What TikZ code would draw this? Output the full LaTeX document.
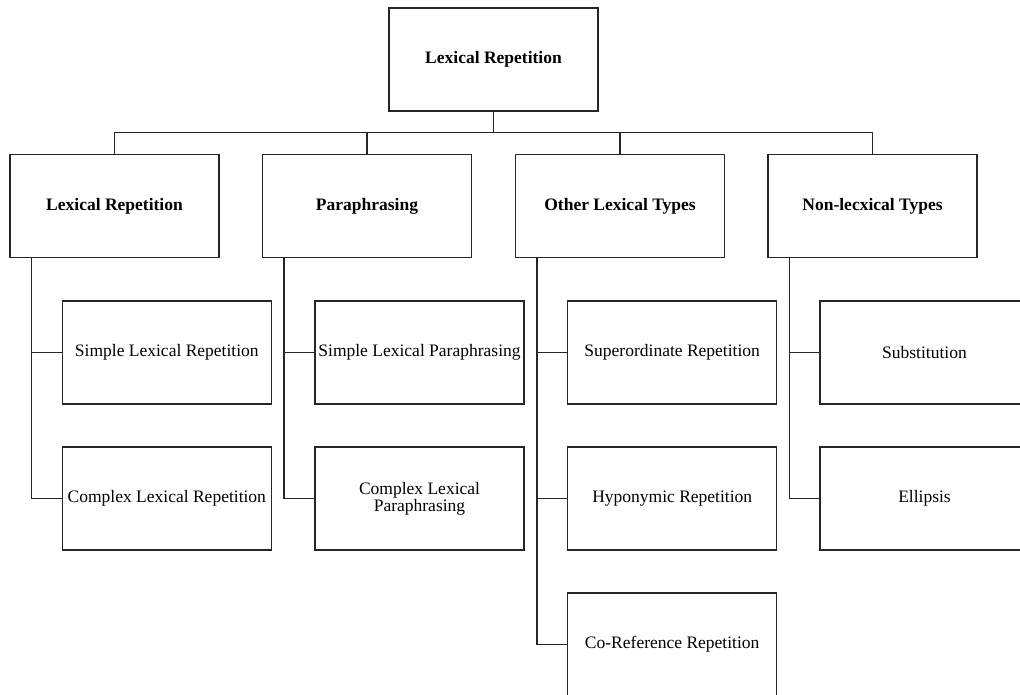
\documentclass[tikz,border=0pt]{standalone}
\usepackage{fontspec}
\setmainfont{Liberation Serif}
\begin{document}
\begin{tikzpicture}[x=1pt,y=-1pt,
  box/.style={draw=black!85, line width=1.4pt, minimum width=209pt, minimum height=103pt, inner sep=0pt, align=center, font=\fontsize{17.5}{17}\selectfont},
  headbox/.style={box, font=\fontsize{17.5}{17}\selectfont\bfseries},
  link/.style={draw=black!85, line width=1.4pt}]
\clip (0,0) rectangle (1020,695);
\fill[white] (0,0) rectangle (1020,695);
% root
\node[headbox] (root) at (493.5,59.5) {Lexical Repetition};
% level 1
\node[headbox] (la) at (114.5,206) {Lexical Repetition};
\node[headbox] (lb) at (367,206) {Paraphrasing};
\node[headbox] (lc) at (620,206) {Other Lexical Types};
\node[headbox] (ld) at (872.5,206) {Non-lecxical Types};
% children
\node[box] (a1) at (166.8,352.5) {Simple Lexical Repetition};
\node[box] (a2) at (166.8,498.5) {Complex Lexical Repetition};
\node[box] (b1) at (419.5,352.5) {Simple Lexical Paraphrasing};
\node[box] (b2) at (419.5,498.5) {Complex Lexical\\Paraphrasing};
\node[box] (c1) at (672.2,352.5) {Superordinate Repetition};
\node[box] (c2) at (672.2,498.5) {Hyponymic Repetition};
\node[box] (c3) at (672.2,644.5) {Co-Reference Repetition};
\node[box] (d1) at (924.5,352.5) {Substitution};
\node[box] (d2) at (924.5,498.5) {Ellipsis};
% root to level 1
\foreach \n in {la,lb,lc,ld}{
  \draw[link] (root.south) -- ++(0,21) -| (\n.north);
}
% trunks
\coordinate (ta) at (31.5,257.5);
\coordinate (tb) at (284,257.5);
\coordinate (tc) at (537,257.5);
\coordinate (td) at (789.5,257.5);
\draw[link] (ta) |- (a1.west);
\draw[link] (ta) |- (a2.west);
\draw[link] (tb) |- (b1.west);
\draw[link] (tb) |- (b2.west);
\draw[link] (tc) |- (c1.west);
\draw[link] (tc) |- (c2.west);
\draw[link] (tc) |- (c3.west);
\draw[link] (td) |- (d1.west);
\draw[link] (td) |- (d2.west);
\end{tikzpicture}
\end{document}
